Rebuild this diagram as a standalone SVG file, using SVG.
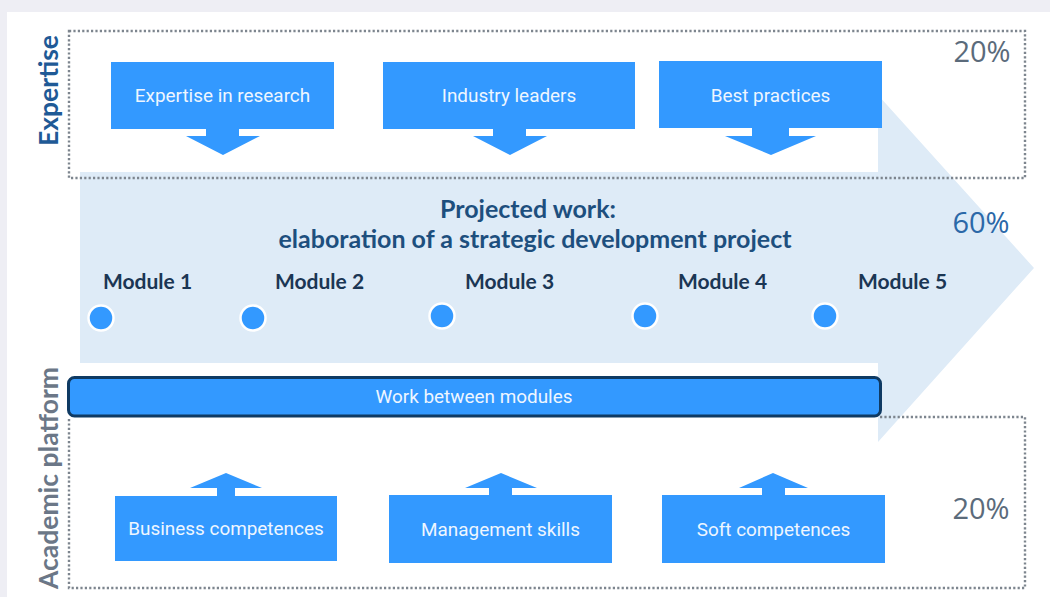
<svg xmlns="http://www.w3.org/2000/svg" width="1050" height="597" viewBox="0 0 1050 597">
<style>
.box{fill:#3399ff}
.btxt{font-family:Roboto,"Liberation Sans",sans-serif;font-size:18.9px;fill:#eef6ff;text-anchor:middle}
.dot{fill:#3399ff;stroke:#ffffff;stroke-width:2.5}
.mod{font-family:Lato,"Liberation Sans",sans-serif;font-weight:700;font-size:21px;fill:#1b3654}
.pct{font-family:"Open Sans","Liberation Sans",sans-serif;font-size:29px}
.dotted{fill:none;stroke:#7d858e;stroke-width:2.4;stroke-dasharray:2.2 2.2}
.barr{fill:#3399ff}
.title{font-family:Lato,"Liberation Sans",sans-serif;font-weight:700;font-size:25px;fill:#1d4f7e;text-anchor:middle}
</style>
<rect x="0" y="0" width="1050" height="597" fill="#eeeef4"/>
<rect x="7" y="12" width="1043" height="585" fill="#ffffff"/>

<g id="main-arrow">
<polygon points="80,172 878,172 878,95 1034,268 878,442 878,363 80,363" fill="#deebf7"/>
<text class="title" x="528" y="218">Projected work:</text>
<text class="title" x="535" y="248">elaboration of a strategic development project</text>
<text x="981" y="233" text-anchor="middle" class="pct" fill="#2b68a8">60%</text>
</g>

<g id="expertise-frame">
<rect class="dotted" x="69" y="31" width="956" height="147"/>
<text x="982" y="62" text-anchor="middle" class="pct" fill="#5b6b7b">20%</text>
<text transform="translate(58,90.5) rotate(-90)" text-anchor="middle" font-family="Lato,'Liberation Sans',sans-serif" font-weight="700" font-size="26.5px" fill="#1f5a96">Expertise</text>
</g>

<g id="academic-frame">
<path class="dotted" d="M880 417 H1025 V588 H69 V418"/>
<text x="981" y="519" text-anchor="middle" class="pct" fill="#5b6b7b">20%</text>
<text transform="translate(58,478) rotate(-90)" text-anchor="middle" font-family="Lato,'Liberation Sans',sans-serif" font-weight="700" font-size="26.5px" fill="#6b7787">Academic platform</text>
</g>

<g id="connectors">
<polygon class="barr" points="206,129 239,129 239,136 260,136 223,155 186,136 206,136"/>
<polygon class="barr" points="493,129 526,129 526,136 547,136 510,155 473,136 493,136"/>
<polygon class="barr" points="752,128 789,128 789,136 816,136 771,155 725,136 752,136"/>
<polygon class="barr" points="217,496 235,496 235,488 262,488 226,473 190,488 217,488"/>
<polygon class="barr" points="489,495 512,495 512,488 537,488 501,473 465,488 489,488"/>
<polygon class="barr" points="762,495 785,495 785,488 808,488 773,473 739,488 762,488"/>
</g>

<g id="node-expertise-research">
<rect class="box" x="111" y="62" width="223" height="67"/>
<text class="btxt" x="222.5" y="102">Expertise in research</text>
</g>
<g id="node-industry-leaders">
<rect class="box" x="383" y="62" width="252" height="67"/>
<text class="btxt" x="509" y="102">Industry leaders</text>
</g>
<g id="node-best-practices">
<rect class="box" x="659" y="61" width="223" height="67"/>
<text class="btxt" x="770.5" y="102">Best practices</text>
</g>

<g id="module-1"><text class="mod" x="103" y="289">Module 1</text><circle class="dot" cx="101" cy="318" r="12.5"/></g>
<g id="module-2"><text class="mod" x="275" y="289">Module 2</text><circle class="dot" cx="253" cy="318" r="12.5"/></g>
<g id="module-3"><text class="mod" x="465" y="289">Module 3</text><circle class="dot" cx="442" cy="316" r="12.5"/></g>
<g id="module-4"><text class="mod" x="678" y="289">Module 4</text><circle class="dot" cx="645" cy="316" r="12.5"/></g>
<g id="module-5"><text class="mod" x="858" y="289">Module 5</text><circle class="dot" cx="825" cy="316" r="12.5"/></g>

<g id="node-work-between-modules">
<rect x="68.5" y="377.5" width="812" height="38.5" rx="6" fill="#3399ff" stroke="#0f3a63" stroke-width="3"/>
<text class="btxt" x="474" y="403">Work between modules</text>
</g>

<g id="node-business-competences">
<rect class="box" x="115" y="496" width="222" height="65"/>
<text class="btxt" x="226" y="535">Business competences</text>
</g>
<g id="node-management-skills">
<rect class="box" x="389" y="495" width="223" height="68"/>
<text class="btxt" x="500.5" y="536">Management skills</text>
</g>
<g id="node-soft-competences">
<rect class="box" x="662" y="495" width="223" height="68"/>
<text class="btxt" x="773.5" y="536">Soft competences</text>
</g>
</svg>
